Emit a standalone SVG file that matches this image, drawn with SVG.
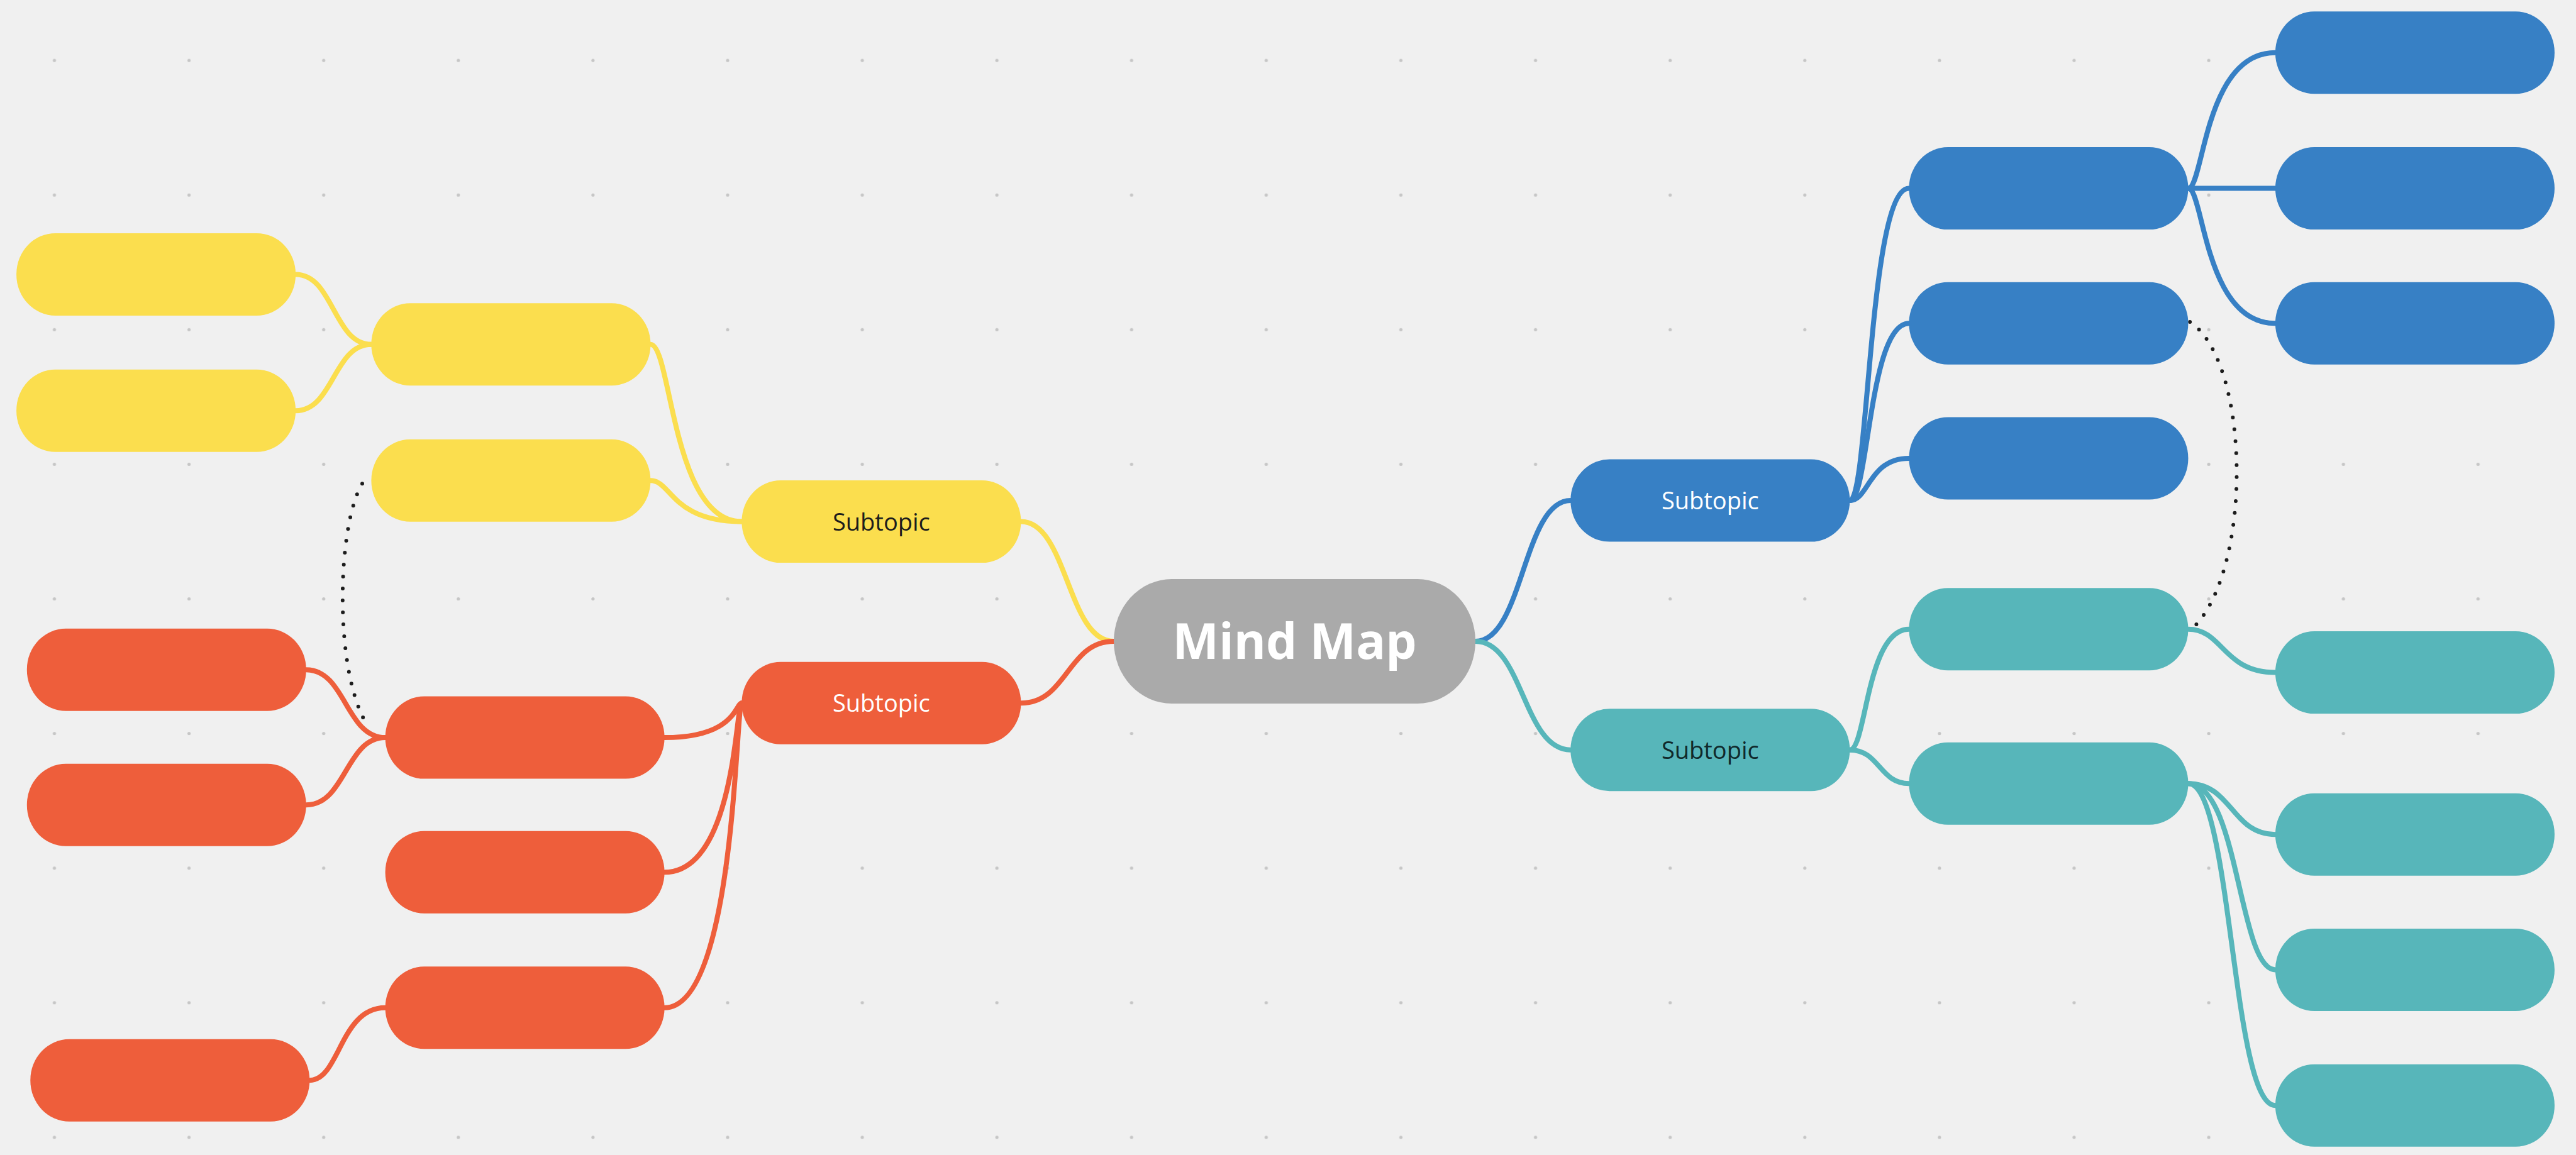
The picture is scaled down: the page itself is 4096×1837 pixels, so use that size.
<svg xmlns="http://www.w3.org/2000/svg" width="4096" height="1837" viewBox="0 0 4096 1837">
<defs>
<pattern id="grid" patternUnits="userSpaceOnUse" width="214.1" height="214.1"><circle cx="86.5" cy="96.1" r="2.6" fill="#c6c6c6"/></pattern>
<style>
.n{rx:62px;ry:65px}
.yel{fill:#fbde4e}.red{fill:#ee5e3b}.blu{fill:#3780c5}.tea{fill:#57b6ba}
.c{fill:none;stroke-width:8;stroke-linecap:round}
.cy{stroke:#fbde4e}.cr{stroke:#ee5e3b}.cb{stroke:#3780c5}.ct{stroke:#57b6ba}
.dot{fill:none;stroke:#1c1c1c;stroke-width:6;stroke-linecap:round;stroke-dasharray:0 19}
.t{font-family:"Open Sans","Noto Sans","Liberation Sans",sans-serif;font-size:38px;text-anchor:middle}
.main{font-family:"Open Sans","Noto Sans","Liberation Sans",sans-serif;font-size:78px;font-weight:bold;text-anchor:middle;fill:#ffffff}
</style>
</defs>
<rect width="4096" height="1837" fill="#f0f0f0"/>
<rect width="4096" height="1837" fill="url(#grid)"/>
<g id="connectors">
<path class="c cy" d="M1771 1020 C1697.2 1020 1697.2 829.6 1623.4 829.6"/>
<path class="c cr" d="M1771 1020 C1697.2 1020 1697.2 1118.2 1623.4 1118.2"/>
<path class="c cb" d="M2346 1020 C2421.7 1020 2421.7 796.1 2497.3 796.1"/>
<path class="c ct" d="M2346 1020 C2421.7 1020 2421.7 1192.7 2497.3 1192.7"/>
<path class="c cy" d="M1179.4 829.6 C1067.8 829.6 1067.8 547.7 1034.4 547.7"/>
<path class="c cy" d="M1179.4 829.6 C1067.8 829.6 1067.8 764.3 1034.4 764.3"/>
<path class="c cy" d="M590.4 547.7 C530.3 547.7 530.3 436.4 470.1 436.4"/>
<path class="c cy" d="M590.4 547.7 C530.3 547.7 530.3 653.2 470.1 653.2"/>
<path class="c cr" d="M1179.4 1118.2 C1169.6 1118.2 1169.6 1173.1 1056.6 1173.1"/>
<path class="c cr" d="M1179.4 1118.2 C1169.6 1118.2 1169.6 1387.3 1056.6 1387.3"/>
<path class="c cr" d="M1179.4 1118.2 C1169.6 1118.2 1169.6 1602.8 1056.6 1602.8"/>
<path class="c cr" d="M612.6 1173.1 C549.7 1173.1 549.7 1065.2 486.8 1065.2"/>
<path class="c cr" d="M612.6 1173.1 C549.7 1173.1 549.7 1280.2 486.8 1280.2"/>
<path class="c cr" d="M612.6 1602.8 C540.4 1602.8 540.4 1718.2 492.3 1718.2"/>
<path class="c cb" d="M2941.3 796.1 C2971.4 796.1 2971.4 299.6 3035.4 299.6"/>
<path class="c cb" d="M2941.3 796.1 C2971.4 796.1 2971.4 514.3 3035.4 514.3"/>
<path class="c cb" d="M2941.3 796.1 C2971.4 796.1 2971.4 729 3035.4 729"/>
<path class="c cb" d="M3479.4 299.6 C3504.3 299.6 3504.3 83.8 3617.9 83.8"/>
<path class="c cb" d="M3479.4 299.6 L3617.9 299.6"/>
<path class="c cb" d="M3479.4 299.6 C3504.3 299.6 3504.3 514.3 3617.9 514.3"/>
<path class="c ct" d="M2941.3 1192.7 C2967.6 1192.7 2967.6 1000.7 3035.4 1000.7"/>
<path class="c ct" d="M2941.3 1192.7 C2988.4 1192.7 2988.4 1246.2 3035.4 1246.2"/>
<path class="c ct" d="M3479.4 1000.7 C3534.8 1000.7 3534.8 1069.6 3617.9 1069.6"/>
<path class="c ct" d="M3479.4 1246.2 C3548.7 1246.2 3548.7 1327.2 3617.9 1327.2"/>
<path class="c ct" d="M3479.4 1246.2 C3559.7 1246.2 3559.7 1542.4 3617.9 1542.4"/>
<path class="c ct" d="M3479.4 1246.2 C3548.7 1246.2 3548.7 1758.2 3617.9 1758.2"/>
<path class="dot" d="M576 769.3 C535.5 835.9 530.3 1071 585.1 1155"/>
<path class="dot" d="M3482.1 512 C3578.7 574.7 3583.9 914.3 3482.1 1003.1"/>
</g>
<g id="center"><rect x="1771" y="921" width="575" height="198" rx="92" ry="99" fill="#aaaaaa"/><text class="main" x="2058.5" y="1048">Mind Map</text></g>
<g id="y-sub"><rect class="n yel" x="1179.4" y="764.1" width="444" height="131"/><text class="t" x="1401.4" y="843.6" fill="#1c1c1c">Subtopic</text></g>
<g id="r-sub"><rect class="n red" x="1179.4" y="1052.7" width="444" height="131"/><text class="t" x="1401.4" y="1132.2" fill="#ffffff">Subtopic</text></g>
<g id="b-sub"><rect class="n blu" x="2497.3" y="730.6" width="444" height="131"/><text class="t" x="2719.3" y="810.1" fill="#ffffff">Subtopic</text></g>
<g id="t-sub"><rect class="n tea" x="2497.3" y="1127.2" width="444" height="131"/><text class="t" x="2719.3" y="1206.7" fill="#10292b">Subtopic</text></g>
<g id="y1"><rect class="n yel" x="590.4" y="482.2" width="444" height="131"/></g>
<g id="y2"><rect class="n yel" x="590.4" y="698.8" width="444" height="131"/></g>
<g id="y1a"><rect class="n yel" x="26.1" y="370.9" width="444" height="131"/></g>
<g id="y1b"><rect class="n yel" x="26.1" y="587.7" width="444" height="131"/></g>
<g id="r1"><rect class="n red" x="612.6" y="1107.6" width="444" height="131"/></g>
<g id="r2"><rect class="n red" x="612.6" y="1321.8" width="444" height="131"/></g>
<g id="r3"><rect class="n red" x="612.6" y="1537.3" width="444" height="131"/></g>
<g id="r1a"><rect class="n red" x="42.8" y="999.7" width="444" height="131"/></g>
<g id="r1b"><rect class="n red" x="42.8" y="1214.7" width="444" height="131"/></g>
<g id="r3a"><rect class="n red" x="48.3" y="1652.7" width="444" height="131"/></g>
<g id="b1"><rect class="n blu" x="3035.4" y="234.1" width="444" height="131"/></g>
<g id="b2"><rect class="n blu" x="3035.4" y="448.8" width="444" height="131"/></g>
<g id="b3"><rect class="n blu" x="3035.4" y="663.5" width="444" height="131"/></g>
<g id="b1a"><rect class="n blu" x="3617.9" y="18.3" width="444" height="131"/></g>
<g id="b1b"><rect class="n blu" x="3617.9" y="234.1" width="444" height="131"/></g>
<g id="b1c"><rect class="n blu" x="3617.9" y="448.8" width="444" height="131"/></g>
<g id="t1"><rect class="n tea" x="3035.4" y="935.2" width="444" height="131"/></g>
<g id="t2"><rect class="n tea" x="3035.4" y="1180.7" width="444" height="131"/></g>
<g id="t1a"><rect class="n tea" x="3617.9" y="1004.1" width="444" height="131"/></g>
<g id="t2a"><rect class="n tea" x="3617.9" y="1261.7" width="444" height="131"/></g>
<g id="t2b"><rect class="n tea" x="3617.9" y="1476.9" width="444" height="131"/></g>
<g id="t2c"><rect class="n tea" x="3617.9" y="1692.7" width="444" height="131"/></g>
</svg>
